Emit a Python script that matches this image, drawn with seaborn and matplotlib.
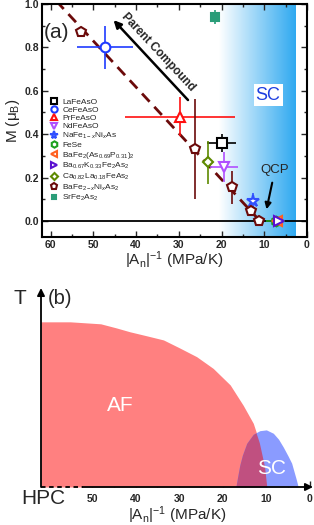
import numpy as np
import matplotlib
matplotlib.use("Agg")
import matplotlib.pyplot as plt
import seaborn as sns
from matplotlib.colors import LinearSegmentedColormap
from matplotlib.ticker import MultipleLocator, FormatStrFormatter

# ---- panel (a) data: ordered moment vs |A_n|^-1 ----
names = ["LaFeAsO", "CeFeAsO", "PrFeAsO", "NdFeAsO",
         "NaFe$_{1-x}$Ni$_x$As", "FeSe",
         "BaFe$_2$(As$_{0.69}$P$_{0.31}$)$_2$",
         "Ba$_{0.67}$K$_{0.33}$Fe$_2$As$_2$",
         "Ca$_{0.82}$La$_{0.18}$FeAs$_2$",
         "BaFe$_{2-x}$Ni$_x$As$_2$", "SrFe$_2$As$_2$"]
inv_An = [[20.0], [47.3], [29.7], [19.4], [12.6], [7.3], [7.0], [6.5], [23.2],
          [52.8, 26.2, 17.5, 13.2, 11.2], [21.5]]
moment = [[0.36], [0.80], [0.48], [0.25], [0.09], [0.0], [0.0], [0.0], [0.27],
          [0.87, 0.333, 0.155, 0.044, 0.0], [0.94]]
inv_An_err = [[3.5], [6.5], [12.8], [3.3], [0.0], [2.2], [0.0], [0.0], [0.0],
              [1.0, 0.0, 0.0, 0.0, 0.0], [0.0]]
moment_err = [[0.04], [0.10], [0.09], [0.07], [0.04], [0.0], [0.0], [0.0], [0.10],
              [0.02, 0.23, 0.075, 0.01, 0.0], [0.033]]
colors = ["#000000", "#1f3bff", "#ff1010", "#b050ff", "#3050ff", "#1fa01f",
          "#ff6020", "#5a10d0", "#5e8a00", "#6b0a0a", "#2a9d78"]
markers = ["s", "o", "^", "v", "*", "h", "<", ">", "D", "p", "s"]

guide_x = [58.0, 11.0]
guide_y = [1.0, 0.0]

# ---- panel (b) schematic phase diagram ----
af_x = [61.7, 55.0, 48.0, 44.5, 41.3, 37.5, 33.6, 30.0, 26.0, 22.2, 18.3, 15.3,
        13.0, 11.5, 10.3, 9.8]
af_T = [0.83, 0.83, 0.82, 0.80, 0.78, 0.76, 0.739, 0.70, 0.655, 0.596, 0.513,
        0.41, 0.32, 0.22, 0.10, 0.0]
sc_x = [17.0, 16.6, 16.1, 15.5, 14.5, 13.0, 11.5, 10.0, 8.4, 7.2, 6.1, 5.0, 4.2,
        3.1, 2.7]
sc_T = [0.0, 0.05, 0.11, 0.16, 0.22, 0.265, 0.283, 0.287, 0.27, 0.24, 0.20,
        0.155, 0.12, 0.035, 0.0]

sns.set_theme(style="ticks")
plt.rcParams['font.family'] = ['Liberation Sans', 'DejaVu Sans']
plt.rcParams['mathtext.fontset'] = 'custom'
plt.rcParams['mathtext.rm'] = 'Liberation Sans'
plt.rcParams['mathtext.it'] = 'Liberation Sans:italic'
plt.rcParams['mathtext.bf'] = 'Liberation Sans:bold'

fig = plt.figure(figsize=(3.14, 5.25), dpi=100)

# ================= panel (a) =================
ax = fig.add_axes([42 / 314, 1 - 237 / 525, 265 / 314, 233 / 525])
ylo, yhi = -0.074, 1.0

# superconducting background gradient
sc_cmap = LinearSegmentedColormap.from_list("scgrad", ["#ffffff", "#2fa9f0"])
ax.imshow(np.linspace(0, 1, 256)[None, :], extent=[20.5, 2.6, ylo, yhi],
          aspect='auto', cmap=sc_cmap, zorder=0)

ax.axhline(0, color='black', lw=1.3, zorder=1)
sns.lineplot(x=guide_x, y=guide_y, ax=ax, color='#6b0a0a', lw=2,
             linestyle=(0, (4, 2.5)), zorder=2)

for nm, xs, ys, xe, ye, c, m in zip(names, inv_An, moment, inv_An_err,
                                    moment_err, colors, markers):
    ax.errorbar(xs, ys, xerr=xe, yerr=ye, fmt='none', ecolor=c,
                elinewidth=1.2, capsize=0, zorder=3)
    filled = nm.startswith("SrFe")
    ms = 9 if m == "*" else (5.5 if m in ("D",) or filled else 7)
    ax.plot(xs, ys, marker=m, ls='none', ms=ms, mew=1.5, mec=c,
            mfc=c if filled else 'white', label=nm, zorder=4)

ax.set_xlim(62, 0)
ax.set_ylim(ylo, yhi)
ax.xaxis.set_major_locator(MultipleLocator(10))
ax.xaxis.set_minor_locator(MultipleLocator(5))
ax.yaxis.set_major_locator(MultipleLocator(0.2))
ax.yaxis.set_minor_locator(MultipleLocator(0.1))
ax.yaxis.set_major_formatter(FormatStrFormatter('%.1f'))
ax.tick_params(which='both', direction='in', top=True, right=True, width=1,
               labelsize=7.5, pad=2)
ax.tick_params(which='major', length=4)
ax.tick_params(which='minor', length=2)
for lab in ax.get_xticklabels() + ax.get_yticklabels():
    lab.set_fontweight('bold')
for sp in ax.spines.values():
    sp.set_linewidth(1.5)
    sp.set_color('black')

ax.set_xlabel('|A$_\\mathrm{n}$|$^{-1}$ (MPa/K)', fontsize=11, labelpad=0)
ax.set_ylabel('M (μ$_\\mathrm{B}$)', fontsize=11, labelpad=2)

ax.legend(loc='upper left', bbox_to_anchor=(0.017, 0.615), frameon=False,
          fontsize=6, markerscale=0.65, handlelength=0.9, handletextpad=0.5,
          labelspacing=0.05, borderpad=0.2, borderaxespad=0.3)

ax.text(61.5, 0.87, '(a)', fontsize=15, ha='left', va='center')
ax.annotate('', xy=(45.7, 0.935), xytext=(27.4, 0.548),
            arrowprops=dict(arrowstyle='-|>', color='black', lw=1.8,
                            mutation_scale=11))
ax.text(34.9, 0.78, 'Parent Compound', fontsize=8.5, fontweight='bold',
        rotation=-47, ha='center', va='center', rotation_mode='anchor')
ax.text(9.1, 0.58, 'SC', fontsize=13, color='#1e3fe0', ha='center',
        va='center', bbox=dict(fc='white', ec='none', pad=1.5))
ax.text(7.5, 0.235, 'QCP', fontsize=9.5, ha='center', va='center')
ax.annotate('', xy=(9.6, 0.041), xytext=(8.0, 0.189),
            arrowprops=dict(arrowstyle='-|>', color='black', lw=1.5,
                            mutation_scale=9))

# ================= panel (b) =================
axb = fig.add_axes([41 / 314, 38 / 525, 272 / 314, 199 / 525])
bx_lo, bx_hi = 61.7, -0.7
af = axb.fill_between(af_x, af_T, color='#ff8080', lw=0, zorder=1)
axb.fill_between(sc_x, sc_T, color='#8a9bff', lw=0, zorder=1.1)
overlap = axb.fill_between(sc_x, sc_T, color='#c05080', lw=0, zorder=1.2)
overlap.set_clip_path(af.get_paths()[0], axb.transData)

axb.set_xlim(bx_lo, bx_hi)
axb.set_ylim(0, 1)
for sp in axb.spines.values():
    sp.set_visible(False)
axb.plot([bx_lo, 52.1], [0, 0], color='black', lw=1.3, ls=(0, (2.5, 2)),
         clip_on=False, zorder=3)
axb.annotate('', xy=(bx_hi, 0), xytext=(52.1, 0), annotation_clip=False,
             arrowprops=dict(arrowstyle='-|>', color='black', lw=1.3,
                             mutation_scale=11, shrinkA=0, shrinkB=0))
axb.annotate('', xy=(bx_lo, 1.0), xytext=(bx_lo, 0), annotation_clip=False,
             arrowprops=dict(arrowstyle='-|>', color='black', lw=1.3,
                             mutation_scale=11, shrinkA=0, shrinkB=0))
axb.set_xticks([50, 40, 30, 20, 10, 0])
axb.set_xticks([45, 35, 25, 15, 5], minor=True)
axb.set_yticks([])
axb.tick_params(axis='x', which='both', direction='in', width=1, labelsize=7.5,
                pad=5)
axb.tick_params(axis='x', which='major', length=4.5)
axb.tick_params(axis='x', which='minor', length=3)
for lab in axb.get_xticklabels():
    lab.set_fontweight('bold')
axb.set_xlabel('|A$_\\mathrm{n}$|$^{-1}$ (MPa/K)', fontsize=11, labelpad=0)

axb.text(43.6, 0.41, 'AF', color='white', fontsize=15, ha='center', va='center')
axb.text(8.7, 0.095, 'SC', color='white', fontsize=15, ha='center', va='center')
fig.text(20 / 314, 1 - 298 / 525, 'T', fontsize=15, ha='center', va='center')
fig.text(59.5 / 314, 1 - 298 / 525, '(b)', fontsize=14.5, ha='center', va='center')
fig.text(43.5 / 314, 1 - 499 / 525, 'HPC', fontsize=15, ha='center', va='center')

fig.savefig('out.png', dpi=100)
